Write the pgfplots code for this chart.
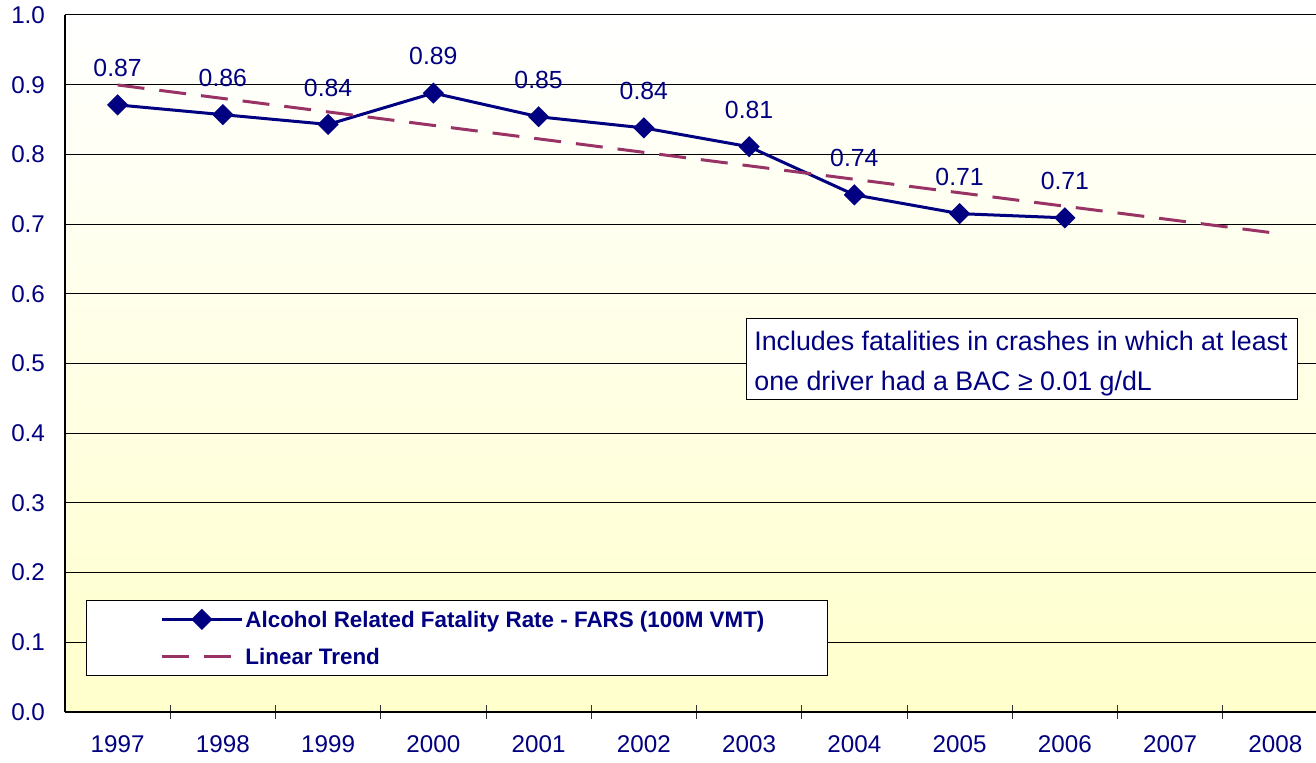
\documentclass[border=0pt]{standalone}
\usepackage{pgfplots}
\pgfplotsset{compat=1.18}
\usepackage{fontspec}
\setmainfont{Liberation Sans}
\usetikzlibrary{calc}
\definecolor{navy}{RGB}{0,0,128}
\definecolor{plum}{RGB}{153,51,102}
\definecolor{bgyellow}{RGB}{255,255,204}
\pgfplotsset{
  seriesleg/.style={legend image code/.code={\draw[mark repeat=2,mark phase=2,##1] plot coordinates {(0pt,0pt)(20pt,0pt)(40pt,0pt)};}},
  trendleg/.style={legend image code/.code={\draw[##1] (0pt,0pt) -- (34.5pt,0pt);}},
}
\pgfplotstableread{
x y lab
0 0.871 0.87
1 0.857 0.86
2 0.843 0.84
3 0.888 0.89
4 0.854 0.85
5 0.838 0.84
6 0.811 0.81
7 0.742 0.74
8 0.715 0.71
9 0.709 0.71
}\ratedata
\pgfplotstableread{
x y
0 0.8996
11 0.687
}\trenddata
\begin{document}
\begin{tikzpicture}
\begin{axis}[
  scale only axis,
  width=625.5pt, height=348.5pt,
  xmin=-0.5, xmax=11.386,
  ymin=0, ymax=1,
  axis x line*=bottom, axis y line*=left,
  axis line style={black, line width=0.8pt},
  axis background/.style={top color=white, bottom color=bgyellow},
  xtick={0,...,11},
  xticklabels={1997,1998,1999,2000,2001,2002,2003,2004,2005,2006,2007,2008},
  minor xtick={0.5,1.5,2.5,3.5,4.5,5.5,6.5,7.5,8.5,9.5,10.5},
  major tick length=0pt,
  minor tick length=7pt,
  tick align=center,
  minor tick style={black!80, line width=0.5pt},
  ytick={0,0.1,...,1.01},
  ymajorgrids,
  major grid style={black, line width=0.5pt},
  /pgf/number format/assume math mode=true,
  yticklabel style={/pgf/number format/fixed, /pgf/number format/fixed zerofill, /pgf/number format/precision=1, xshift=-6.5pt},
  ticklabel style={font=\fontsize{12.1}{14}\selectfont, text=navy},
  x tick label style={yshift=-8.5pt},
  legend style={at={(axis cs:-0.30,0.1607)}, anchor=north west, draw=black, fill=white,
    font=\bfseries\fontsize{11.2}{13}\selectfont, text=navy,
    inner xsep=37pt, inner ysep=0.25pt, row sep=0pt,
    nodes={inner xsep=1pt, inner ysep=0pt, text height=13.5pt, text depth=5pt}},
  legend cell align=left,
]
\coordinate (O) at (rel axis cs:0,0);
\addplot[navy, line width=1.5pt, mark=square*, mark size=3pt, mark options={rotate=45, solid},
  seriesleg,
  nodes near coords, point meta=explicit symbolic,
  every node near coord/.append style={font=\fontsize{12.4}{14}\selectfont, text=navy, yshift=10pt}]
  table[x=x, y=y, meta=lab] {\ratedata};
\addlegendentry{\makebox[253pt][l]{Alcohol Related Fatality Rate - FARS (100M VMT)}}
\addplot[plum, line width=1.5pt, dash pattern=on 13.5pt off 7.5pt, trendleg]
  table[x=x, y=y] {\trenddata};
\addlegendentry{\makebox[253pt][l]{Linear Trend}}
\node[draw=black, fill=white, minimum width=275.5pt, minimum height=40.5pt, inner sep=0pt, anchor=north west] (box) at (axis cs:5.97,0.565) {};
\node[anchor=base west, inner sep=0pt, text=navy, font=\fontsize{13.4}{16}\selectfont] at ($(box.north west)+(4pt,-16pt)$) {Includes fatalities in crashes in which at least};
\node[anchor=base west, inner sep=0pt, text=navy, font=\fontsize{13.4}{16}\selectfont] at ($(box.north west)+(4pt,-36pt)$) {one driver had a BAC ≥ 0.01 g/dL};
\end{axis}
\pgfresetboundingbox
\path ($(O)+(-32.5pt,-25pt)$) rectangle ($(O)+(625.5pt,356pt)$);
\end{tikzpicture}
\end{document}
